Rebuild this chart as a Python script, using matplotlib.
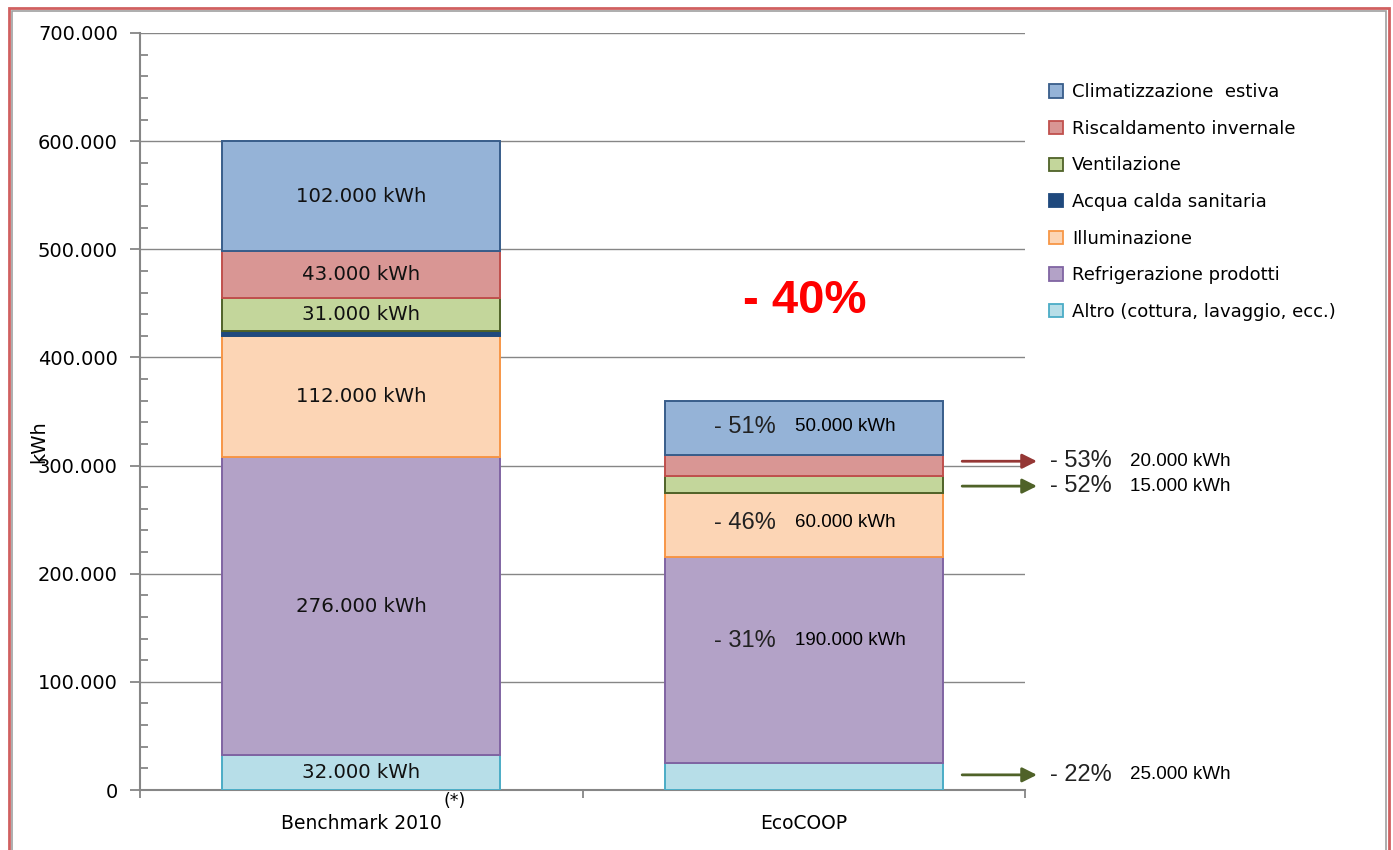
import numpy as np
import matplotlib.pyplot as plt
from matplotlib.patches import Patch, Rectangle

# ── data (kWh) ───────────────────────────────────────────────────────────────
categories = ["Benchmark 2010", "EcoCOOP"]

# stacking order: bottom -> top
series_names = [
    "Altro (cottura, lavaggio, ecc.)",
    "Refrigerazione prodotti",
    "Illuminazione",
    "Acqua calda sanitaria",
    "Ventilazione",
    "Riscaldamento invernale",
    "Climatizzazione  estiva",
]
altro  = [32000, 25000]
refrig = [276000, 190000]
illum  = [112000, 60000]
acqua  = [4000, 0]
vent   = [31000, 15000]
risc   = [43000, 20000]
clim   = [102000, 50000]
values = [altro, refrig, illum, acqua, vent, risc, clim]

# reduction vs benchmark, EcoCOOP only
reductions = ["- 22%", "- 31%", "- 46%", None, "- 52%", "- 53%", "- 51%"]
total_reduction = "- 40%"

# ── style ────────────────────────────────────────────────────────────────────
face = ["#B7DEE8", "#B3A2C7", "#FCD5B5", "#1F497D", "#C3D69B", "#D99694", "#95B3D7"]
edge = ["#4BACC6", "#8064A2", "#F79646", "#1F497D", "#4F6228", "#C0504D", "#385D8A"]
GRID = "#868686"


def fmt(v):
    return f"{v:,.0f}".replace(",", ".")


W, H = 1393, 850
fig = plt.figure(figsize=(W / 100, H / 100), dpi=100)
ax = fig.add_axes([140 / W, 1 - 790 / H, 885 / W, 757 / H])

x = np.arange(len(categories))
bw = 0.628
bottom = np.zeros(len(categories))
for i, vals in enumerate(values):
    vals = np.array(vals, dtype=float)
    for j in range(len(categories)):
        if vals[j] > 0:
            ax.bar(x[j], vals[j], bottom=bottom[j], width=bw, color=face[i],
                   edgecolor=edge[i], linewidth=1.4, zorder=3)
    bottom += vals

# benchmark labels (skip the thin acqua band)
bottom = 0
for i, vals in enumerate(values):
    v = vals[0]
    if v > 10000:
        ax.text(x[0], bottom + v / 2, f"{fmt(v)} kWh", ha="center", va="center",
                fontsize=14.2, color="#111111", zorder=4)
    bottom += v

# EcoCOOP labels inside the bar
inside = {6: 336000, 2: 247000, 1: 138000}
for i, ypos in inside.items():
    ax.text(0.797, ypos, reductions[i], ha="left", va="center", fontsize=17,
            family="Liberation Sans", color="#222222", zorder=4)
    ax.text(0.980, ypos, f"{fmt(values[i][1])} kWh", ha="left", va="center",
            fontsize=13.5, family="Liberation Sans", zorder=4)

# EcoCOOP labels outside with arrows
outside = {5: (304000, "#953735"), 4: (281000, "#4F6228"), 0: (14000, "#4F6228")}
for i, (ypos, col) in outside.items():
    ax.annotate("", xy=(1.527, ypos), xytext=(1.358, ypos),
                arrowprops=dict(arrowstyle="-|>", color=col, lw=2,
                                mutation_scale=22, shrinkA=0, shrinkB=0),
                annotation_clip=False)
    ax.text(1.556, ypos, reductions[i], ha="left", va="center", fontsize=17,
            family="Liberation Sans", color="#222222", clip_on=False)
    ax.text(1.737, ypos, f"{fmt(values[i][1])} kWh", ha="left", va="center",
            fontsize=13.5, family="Liberation Sans", clip_on=False)

ax.text(1.003, 452000, total_reduction, ha="center", va="center", fontsize=34,
        fontweight="bold", color="#FF0000", family="Liberation Sans", zorder=4)

# ── axes ─────────────────────────────────────────────────────────────────────
ax.set_xlim(-0.5, 1.5)
ax.set_ylim(0, 700000)
ax.set_yticks(np.arange(0, 700001, 100000))
ax.set_yticks(np.arange(0, 700001, 20000), minor=True)
ax.set_yticklabels([fmt(v) for v in np.arange(0, 700001, 100000)], fontsize=14)
ax.tick_params(axis="y", which="major", direction="out", length=7, width=1.3,
               color=GRID, pad=9)
ax.tick_params(axis="y", which="minor", direction="in", length=6, width=1.3,
               color=GRID)
ax.set_xticks([-0.5, 0.5, 1.5])
ax.set_xticklabels([])
ax.set_xticks(x, minor=True)
ax.set_xticklabels(categories, minor=True, fontsize=13.5)
ax.tick_params(axis="x", which="major", direction="out", length=6, width=1.3,
               color=GRID)
ax.tick_params(axis="x", which="minor", length=0, pad=17)
ax.grid(axis="y", which="major", color=GRID, lw=1, zorder=0)
for s in ["top", "right"]:
    ax.spines[s].set_visible(False)
for s in ["left", "bottom"]:
    ax.spines[s].set_color(GRID)
    ax.spines[s].set_linewidth(1.5)
ax.set_ylabel("kWh", fontsize=14)
ax.yaxis.set_label_coords(-92 / 885, 0.46)

# superscript footnote mark on the benchmark label
ax.text(0.185, -0.014, "(*)", transform=ax.get_xaxis_transform(), ha="left",
        va="center", fontsize=12.5)

# ── legend ───────────────────────────────────────────────────────────────────
handles = [Patch(facecolor=face[i], edgecolor=edge[i], lw=1.3)
           for i in reversed(range(len(series_names)))]
fig.legend(handles, list(reversed(series_names)), loc="upper left",
           bbox_to_anchor=(1033 / W, 1 - 67 / H), frameon=False, fontsize=13,
           handlelength=0.75, handleheight=0.75, handletextpad=0.5,
           labelspacing=1.03)

# ── outer frame ──────────────────────────────────────────────────────────────
fig.patches.append(Rectangle((9 / W, -0.05), 1380 / W, 1.05 - 8 / H,
                             transform=fig.transFigure, fill=False,
                             edgecolor="#D06060", lw=2))
fig.patches.append(Rectangle((12 / W, -0.05), 1374 / W, 1.05 - 11 / H,
                             transform=fig.transFigure, fill=False,
                             edgecolor="#A0A0A0", lw=1.2))

fig.savefig("out.png", dpi=100)
